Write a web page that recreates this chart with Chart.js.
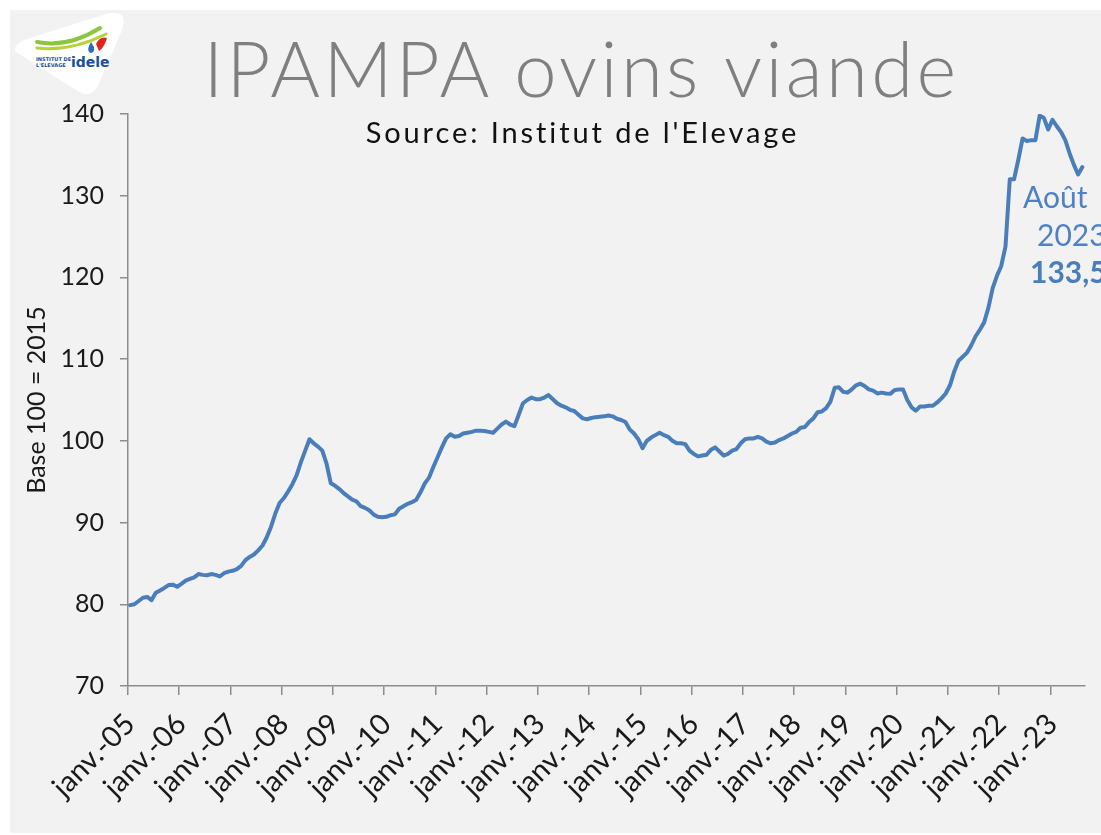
<!DOCTYPE html>
<html>
<head>
<meta charset="utf-8">
<script src="https://cdn.jsdelivr.net/npm/chart.js@4/dist/chart.umd.min.js"></script>
<style>
  html, body { margin: 0; padding: 0; width: 1101px; height: 835px; overflow: hidden; background: #ffffff; }
  #bg { position: absolute; left: 10px; top: 10px; width: 1091px; height: 823px; background: #f2f2f2; }
  #chart { position: absolute; left: 0; top: 0; }
  .txt { position: absolute; white-space: nowrap; font-family: Lato, "DejaVu Sans", sans-serif; }
  #title { left: 0; width: 1163px; top: 22px; text-align: center; font-size: 76px; font-weight: 300; color: #7f7f7f; letter-spacing: 3.4px; }
  #subtitle { left: 0; width: 1165px; top: 114px; text-align: center; font-size: 29px; color: #111; letter-spacing: 2.9px; }
  .ann { color: #4f81c5; font-size: 30px; }
  #logo { position: absolute; left: 8px; top: 8px; }
</style>
</head>
<body>
<div id="bg"></div>
<svg id="logo" width="125" height="90" viewBox="0 0 125 90">
  <path d="M 8 44 Q 4 37 16 32 L 98 6 Q 121 0 114 22 L 90 78 Q 82 92 68 82 Z" fill="#ffffff"/>
  <path d="M 29 34 Q 60 40 92 20" stroke="#8cc63f" stroke-width="4" fill="none" stroke-linecap="round"/>
  <path d="M 29 40 Q 62 44 98 26" stroke="#b5d334" stroke-width="3" fill="none" stroke-linecap="round"/>
  <path d="M 88 36 Q 92 28 99 30 Q 96 40 91 43 Z" fill="#e2231a"/>
  <path d="M 83 34 Q 78 42 82 45 Q 87 45 86 39 Z" fill="#2f6db5"/>
  <text x="28" y="53" font-family="DejaVu Sans" font-size="5" font-weight="bold" fill="#1b4f9c">INSTITUT DE</text>
  <text x="28" y="59" font-family="DejaVu Sans" font-size="5" font-weight="bold" fill="#1b4f9c">L'ELEVAGE</text>
  <text x="63" y="59" font-family="DejaVu Sans" font-size="14" font-weight="bold" fill="#1b4f9c">idele</text>
</svg>
<canvas id="chart" width="1101" height="835"></canvas>
<div id="title" class="txt">IPAMPA ovins viande</div>
<div id="subtitle" class="txt">Source: Institut de l'Elevage</div>
<div class="txt ann" style="left:1023px; top:178px;">Août</div>
<div class="txt ann" style="left:1037px; top:216px;">2023</div>
<div class="txt ann" style="left:1030px; top:253px; font-weight:bold; color:#4a7ebb;">133,5</div>
<script>
// ---- data (monthly, janv. 2005 -> août 2023) ----
const monthNames = ['janv.', 'févr.', 'mars', 'avr.', 'mai', 'juin', 'juil.', 'août', 'sept.', 'oct.', 'nov.', 'déc.'];
const years = ['05','06','07','08','09','10','11','12','13','14','15','16','17','18','19','20','21','22','23'];

const v2005 = [79.9, 80.0, 80.4, 80.8, 80.9, 80.5, 81.4, 81.7, 82.0, 82.35, 82.4, 82.15];
const v2006 = [82.5, 82.9, 83.1, 83.3, 83.7, 83.6, 83.55, 83.7, 83.6, 83.4, 83.8, 84.0];
const v2007 = [84.1, 84.3, 84.7, 85.4, 85.8, 86.1, 86.6, 87.2, 88.2, 89.5, 91.1, 92.4];
const v2008 = [93.0, 93.8, 94.7, 95.8, 97.4, 98.8, 100.2, 99.7, 99.3, 98.8, 97.2, 94.8];
const v2009 = [94.5, 94.1, 93.6, 93.2, 92.8, 92.6, 92.0, 91.8, 91.5, 91.0, 90.7, 90.65];
const v2010 = [90.7, 90.9, 91.0, 91.7, 92.0, 92.3, 92.5, 92.8, 93.7, 94.8, 95.5, 96.8];
const v2011 = [98.0, 99.2, 100.3, 100.8, 100.5, 100.6, 100.9, 101.0, 101.1, 101.25, 101.25, 101.2];
const v2012 = [101.1, 101.0, 101.5, 102.0, 102.35, 102.0, 101.8, 103.2, 104.6, 105.0, 105.3, 105.1];
const v2013 = [105.1, 105.3, 105.6, 105.1, 104.6, 104.3, 104.1, 103.8, 103.65, 103.2, 102.75, 102.65];
const v2014 = [102.8, 102.9, 102.95, 103.0, 103.1, 103.0, 102.7, 102.55, 102.3, 101.4, 100.9, 100.2];
const v2015 = [99.1, 100.0, 100.4, 100.7, 101.0, 100.7, 100.5, 100.0, 99.7, 99.7, 99.6, 98.8];
const v2016 = [98.4, 98.1, 98.2, 98.3, 98.9, 99.2, 98.7, 98.2, 98.4, 98.8, 99.0, 99.7];
const v2017 = [100.2, 100.3, 100.3, 100.5, 100.3, 99.9, 99.7, 99.8, 100.1, 100.3, 100.6, 100.9];
const v2018 = [101.1, 101.6, 101.7, 102.3, 102.75, 103.5, 103.6, 104.0, 104.8, 106.5, 106.55, 106.0];
const v2019 = [105.9, 106.3, 106.8, 107.0, 106.7, 106.3, 106.15, 105.8, 105.9, 105.8, 105.75, 106.2];
const v2020 = [106.3, 106.3, 105.0, 104.1, 103.7, 104.2, 104.2, 104.3, 104.3, 104.7, 105.2, 105.8];
const v2021 = [106.8, 108.5, 109.8, 110.3, 110.8, 111.7, 112.8, 113.6, 114.5, 116.3, 118.7, 120.2];
const v2022 = [121.4, 123.8, 132.0, 132.0, 134.4, 137.0, 136.7, 136.8, 136.8, 139.8, 139.5, 138.1];
const v2023 = [139.3, 138.5, 137.8, 136.8, 135.2, 133.8, 132.6, 133.5];

const yTicks = [70, 80, 90, 100, 110, 120, 130, 140];

const values = [].concat(v2005, v2006, v2007, v2008, v2009, v2010, v2011, v2012, v2013,
  v2014, v2015, v2016, v2017, v2018, v2019, v2020, v2021, v2022, v2023);
const labels = [];
years.forEach(y => monthNames.forEach(m => labels.push(m + '-' + y)));
labels.length = values.length;

const axisGray = '#8c8c8c';
const fam = 'Lato, "DejaVu Sans", sans-serif';

new Chart(document.getElementById('chart'), {
  type: 'line',
  data: {
    labels: labels,
    datasets: [{
      data: values,
      borderColor: '#4a7ebb',
      borderWidth: 4,
      pointRadius: 0,
      tension: 0,
      borderJoinStyle: 'round',
      borderCapStyle: 'round',
      fill: false
    }]
  },
  options: {
    responsive: false,
    animation: false,
    devicePixelRatio: 1,
    layout: { padding: { top: 114, right: 16.5, bottom: 0, left: 0 } },
    plugins: { legend: { display: false }, tooltip: { enabled: false }, title: { display: false } },
    scales: {
      x: {
        type: 'category',
        offset: true,
        afterFit: s => { s.height = 149; s.paddingLeft = 0; s.paddingRight = 0; },
        border: { display: true, color: axisGray, width: 1.5 },
        grid: {
          offset: true,
          drawOnChartArea: false,
          drawTicks: true,
          tickLength: 9,
          lineWidth: 1.5,
          color: ctx => (ctx.index % 12 === 0 ? axisGray : 'rgba(0,0,0,0)'),
          tickColor: ctx => (ctx.index % 12 === 0 ? axisGray : 'rgba(0,0,0,0)')
        },
        ticks: {
          autoSkip: false,
          maxRotation: 45,
          minRotation: 45,
          padding: 12,
          color: '#1a1a1a',
          font: { family: fam, size: 29 },
          callback: function (val, idx) { return idx % 12 === 0 ? labels[idx] : ''; }
        }
      },
      y: {
        min: 70,
        max: 140,
        afterFit: s => { s.width = 128; },
        afterBuildTicks: s => { s.ticks = yTicks.map(v => ({ value: v })); },
        border: { display: true, color: axisGray, width: 1.5 },
        grid: { drawOnChartArea: false, drawTicks: true, tickLength: 8, lineWidth: 1.5, color: axisGray },
        ticks: { padding: 16, color: '#1a1a1a', font: { family: fam, size: 25 } },
        title: {
          display: true,
          text: 'Base 100 = 2015',
          color: '#1a1a1a',
          font: { family: fam, size: 25 },
          padding: { top: 22, bottom: 0 }
        }
      }
    }
  }
});
</script>
</body>
</html>
